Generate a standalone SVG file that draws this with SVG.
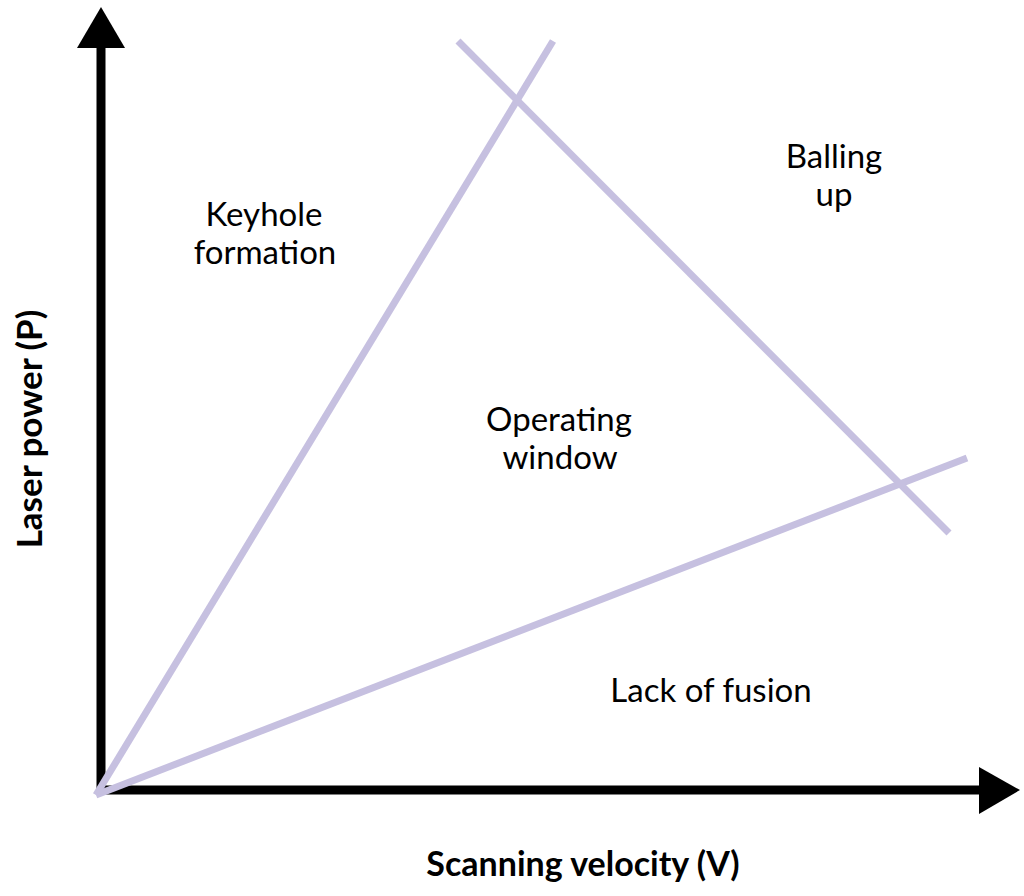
<svg xmlns="http://www.w3.org/2000/svg" width="1024" height="896" viewBox="0 0 1024 896">
<style>
.axis{stroke:#000;stroke-width:9;fill:none}
.head{fill:#000}
.bound{stroke:#c6c0e0;stroke-width:7;stroke-linecap:butt;fill:none}
.lbl{font-family:Lato,"Open Sans","Liberation Sans",sans-serif;font-size:33px;fill:#000;text-anchor:middle}
.ax{font-family:Lato,"Open Sans","Liberation Sans",sans-serif;font-weight:bold;fill:#000;text-anchor:middle}
</style>
<rect width="1024" height="896" fill="#fff"/>
<g id="axes">
<path class="axis" d="M101,48 V794.5 M96.5,790 H980"/>
<polygon class="head" points="101,7 77,48 125,48"/>
<polygon class="head" points="1020,790 979,767 979,814"/>
</g>
<g id="connectors">
<line class="bound" x1="96" y1="795" x2="553" y2="41"/>
<line class="bound" x1="96" y1="795" x2="967" y2="458"/>
<line class="bound" x1="458" y1="41" x2="949" y2="533"/>
</g>
<g id="keyhole"><text class="lbl" x="264" y="226">Keyhole</text><text class="lbl" x="265" y="264">formation</text></g>
<g id="balling"><text class="lbl" x="834" y="168">Balling</text><text class="lbl" x="834" y="206">up</text></g>
<g id="operating"><text class="lbl" x="559" y="431">Operating</text><text class="lbl" x="560" y="469">window</text></g>
<g id="lack"><text class="lbl" x="711" y="702">Lack of fusion</text></g>
<g id="xlabel"><text class="ax" x="583" y="876" font-size="34">Scanning velocity (V)</text></g>
<g id="ylabel"><text class="ax" font-size="35" transform="translate(42,429) rotate(-90)">Laser power (P)</text></g>
</svg>
